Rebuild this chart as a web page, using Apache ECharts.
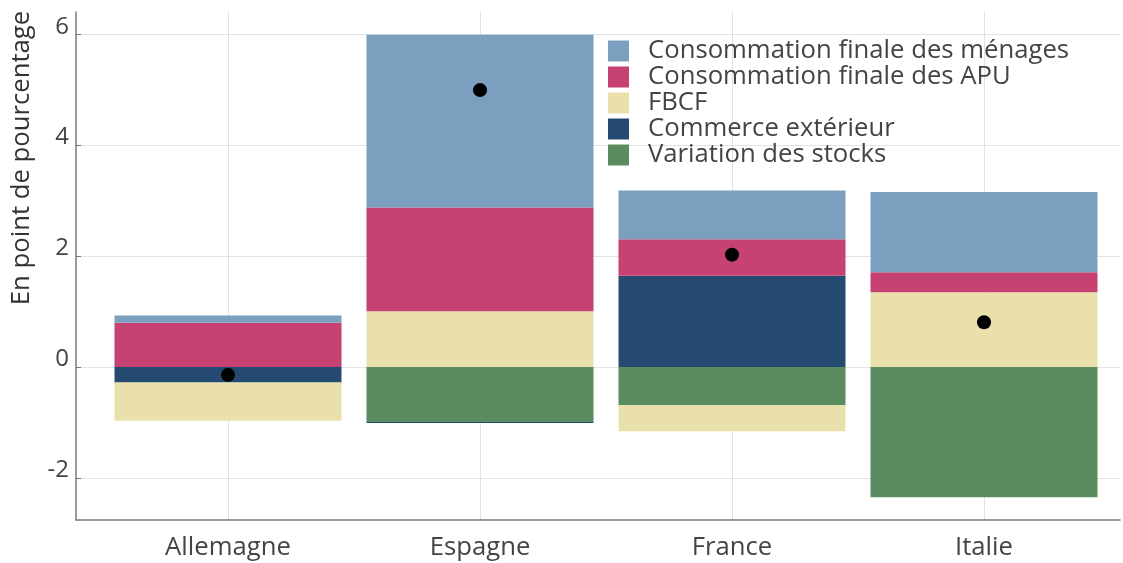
<!DOCTYPE html>
<html>
<head>
<meta charset="utf-8">
<script src="https://cdn.jsdelivr.net/npm/echarts@6/dist/echarts.min.js"></script>
<style>
  html, body { margin: 0; padding: 0; background: #fff; }
  #chart { width: 1123px; height: 563px; }
</style>
</head>
<body>
<div id="chart"></div>
<script>
// contributions à la croissance, en point de pourcentage
const pays = ['Allemagne', 'Espagne', 'France', 'Italie'];
const menages = [0.13, 3.12, 0.88, 1.45];
const apu = [0.80, 1.87, 0.66, 0.36];
const fbcf = [-0.69, 1.01, -0.47, 1.35];
const commerce = [-0.28, -0.02, 1.65, 0];
const stocks = [0, -0.99, -0.69, -2.35];
const pib = [-0.14, 5.0, 2.03, 0.81];

const yMin = -2.76;
const yMax = 6.41;
const font = '"Open Sans", "Noto Sans", sans-serif';
const gridColor = '#e2e2e2';
const axisColor = '#7a7a7a';
const bigText = 25.7;

function barSerie(name, data, color) {
  return {
    name: name,
    type: 'bar',
    xAxisIndex: 1,
    yAxisIndex: 1,
    stack: 'total',
    barWidth: 227,
    clip: false,
    data: data,
    itemStyle: { color: color }
  };
}

const chart = echarts.init(document.getElementById('chart'));
chart.setOption({
  animation: false,
  textStyle: { fontFamily: font },
  grid: [
    { left: 76, right: 3, top: 12, bottom: 43 },
    { left: 228, right: 139, top: 12, bottom: 43 }
  ],
  legend: {
    orient: 'vertical',
    left: 608,
    top: 38,
    padding: 0,
    itemWidth: 21,
    itemHeight: 21,
    itemGap: 0,
    icon: 'rect',
    data: ['Consommation finale des ménages', 'Consommation finale des APU', 'FBCF',
      'Commerce extérieur', 'Variation des stocks'],
    textStyle: { fontSize: bigText, lineHeight: 21, color: '#444', fontFamily: font,
      padding: [0, 0, 0, 14] }
  },
  xAxis: [
    {
      type: 'value', gridIndex: 0, min: 0, max: 1,
      axisLine: { show: true, onZero: false, lineStyle: { color: axisColor, width: 1.5 } },
      axisTick: { show: false },
      axisLabel: { show: false },
      splitLine: { show: false }
    },
    {
      type: 'category', gridIndex: 1, data: pays, boundaryGap: false,
      axisLine: { show: false },
      axisTick: { show: true, inside: true, length: 7, lineStyle: { color: axisColor } },
      axisLabel: { fontSize: bigText, color: '#444', margin: 15, fontFamily: font },
      splitLine: { show: true, lineStyle: { color: gridColor, width: 1 } }
    }
  ],
  yAxis: [
    {
      type: 'value', gridIndex: 0, min: yMin, max: yMax,
      axisLine: { show: true, lineStyle: { color: axisColor, width: 1.5 } },
      axisTick: { show: true, inside: true, length: 5, lineStyle: { color: axisColor } },
      axisLabel: { fontSize: 24, color: '#444', margin: 7, fontFamily: font,
        verticalAlign: 'bottom', lineHeight: 16,
        showMinLabel: false, showMaxLabel: false },
      splitLine: { show: true, showMinLine: false, showMaxLine: false,
        lineStyle: { color: gridColor, width: 1 } }
    },
    { type: 'value', gridIndex: 1, min: yMin, max: yMax, show: false }
  ],
  graphic: [{
    type: 'text',
    x: 22,
    y: 158,
    rotation: Math.PI / 2,
    style: {
      text: 'En point de pourcentage',
      fontSize: bigText,
      fontFamily: font,
      fill: '#333',
      align: 'center',
      verticalAlign: 'middle'
    }
  }],
  series: [
    barSerie('Variation des stocks', stocks, '#5b8c5f'),
    barSerie('Commerce extérieur', commerce, '#254a72'),
    barSerie('FBCF', fbcf, '#e9e0ab'),
    barSerie('Consommation finale des APU', apu, '#c64272'),
    barSerie('Consommation finale des ménages', menages, '#7ba0bf'),
    {
      name: 'PIB',
      type: 'scatter',
      xAxisIndex: 1,
      yAxisIndex: 1,
      symbolSize: 14,
      clip: false,
      z: 10,
      itemStyle: { color: '#000', opacity: 1 },
      data: pib
    }
  ]
});
</script>
</body>
</html>
